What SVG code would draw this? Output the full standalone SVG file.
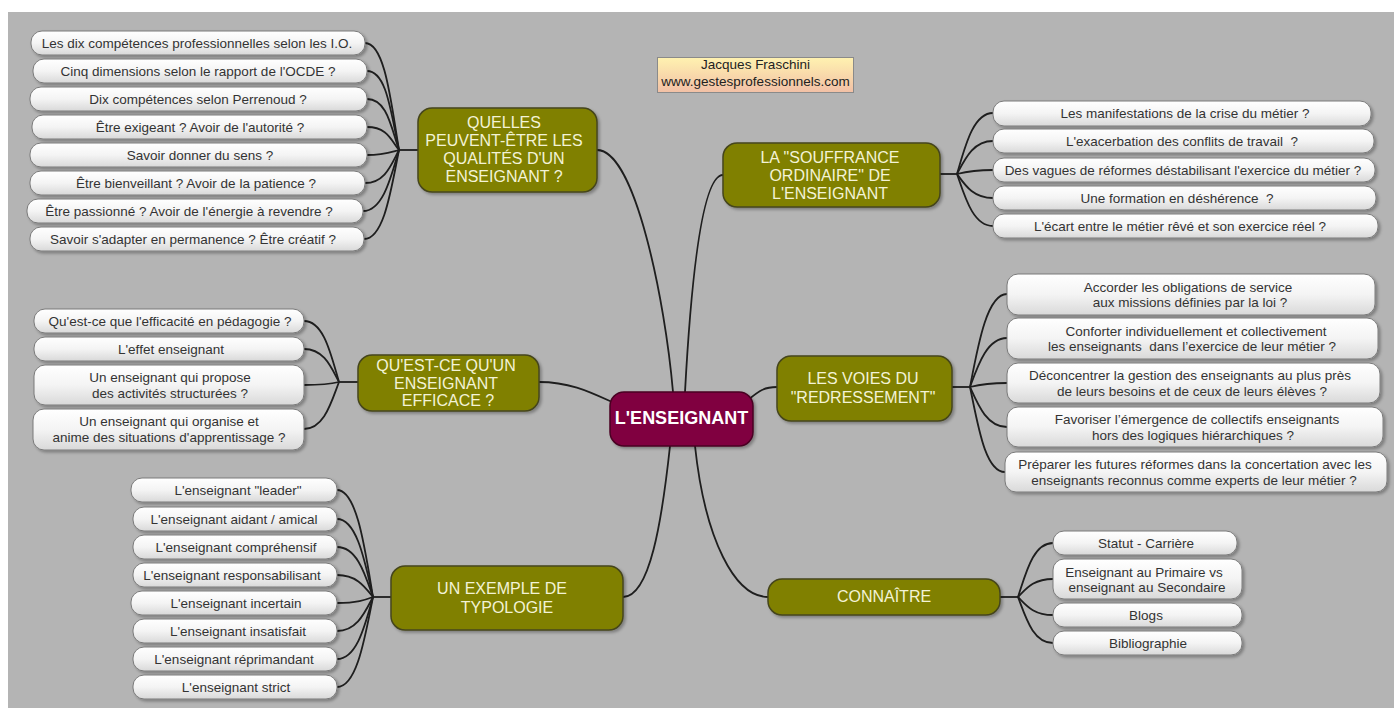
<svg xmlns="http://www.w3.org/2000/svg" width="1394" height="708" viewBox="0 0 1394 708">
<defs>
<linearGradient id="lg" x1="0" y1="0" x2="0" y2="1">
<stop offset="0" stop-color="#ffffff"/>
<stop offset="0.5" stop-color="#f4f4f4"/>
<stop offset="1" stop-color="#d9d9d9"/>
</linearGradient>
<linearGradient id="ag" x1="0" y1="0" x2="0" y2="1">
<stop offset="0" stop-color="#fff2b0"/>
<stop offset="1" stop-color="#f2c0a6"/>
</linearGradient>
<filter id="sh" x="-10%" y="-20%" width="130%" height="160%">
<feDropShadow dx="2" dy="2" stdDeviation="1.5" flood-color="#000" flood-opacity="0.3"/>
</filter>
</defs>
<style>
text{font-family:"Liberation Sans",Arial,sans-serif;text-anchor:middle}
.leaf rect{fill:url(#lg);stroke:#7a7a7a;stroke-width:1;filter:url(#sh)}
.leaf text{font-size:13.5px;fill:#333}
.br rect{fill:#808000;stroke:#45451c;stroke-width:1.5;filter:url(#sh)}
.br text{font-size:16px;fill:#f3f3d6}
.root rect{fill:#80003f;stroke:#4a0024;stroke-width:1.5;filter:url(#sh)}
.root text{font-size:18px;font-weight:bold;fill:#ffffff}
.auth rect{fill:url(#ag);stroke:#8a8a8a;stroke-width:1}
.auth text{font-size:13.5px;fill:#222}
#connectors path{fill:none;stroke:#1e1e1e;stroke-width:1.8}
</style>
<rect x="0" y="0" width="1394" height="708" fill="#ffffff"/>
<rect x="8" y="12" width="1386" height="696" fill="#b4b4b4"/>

<g id="connectors">
<path d="M597,150 C635,150 665,300 673,392"/>
<path d="M685,392 C690,300 700,175 723,175"/>
<path d="M748,400 C760,390 765,387 777,387"/>
<path d="M539,382 C570,382 590,392 612,402"/>
<path d="M670,446 C662,520 650,597 623,597"/>
<path d="M695,446 C705,540 735,597 768,597"/>

<path d="M399,150 H418"/>
<path d="M365,43 C385,43 391,102 399,150"/>
<path d="M367,71 C387,71 391,114 399,150"/>
<path d="M367,99 C387,99 391,127 399,150"/>
<path d="M367,127 C387,127 391,140 399,150"/>
<path d="M367,155 C383,155 391,152 399,150"/>
<path d="M365,183 C385,183 391,165 399,150"/>
<path d="M363,211 C383,211 391,177 399,150"/>
<path d="M364,239 C384,239 391,190 399,150"/>

<path d="M940,174 H957"/>
<path d="M993,113 C973,113 965,147 957,174"/>
<path d="M993,141 C973,141 965,159 957,174"/>
<path d="M993,170 C973,170 965,172 957,174"/>
<path d="M993,198 C973,198 965,185 957,174"/>
<path d="M993,226 C973,226 965,197 957,174"/>

<path d="M952,387 H970"/>
<path d="M1007,294 C987,294 978,345 970,387"/>
<path d="M1007,338 C987,338 978,365 970,387"/>
<path d="M1007,383 C987,383 978,385 970,387"/>
<path d="M1007,427 C987,427 978,405 970,387"/>
<path d="M1005,472 C985,472 978,425 970,387"/>

<path d="M339,382 H358"/>
<path d="M304,321 C324,321 331,355 339,382"/>
<path d="M304,349 C324,349 331,367 339,382"/>
<path d="M304,385 C324,385 331,384 339,382"/>
<path d="M304,429 C324,429 331,403 339,382"/>

<path d="M373,597 H391"/>
<path d="M337,490 C357,490 365,549 373,597"/>
<path d="M337,519 C357,519 365,562 373,597"/>
<path d="M337,547 C357,547 365,574 373,597"/>
<path d="M337,575 C357,575 365,587 373,597"/>
<path d="M337,603 C357,603 365,600 373,597"/>
<path d="M337,631 C357,631 365,612 373,597"/>
<path d="M337,659 C357,659 365,625 373,597"/>
<path d="M337,687 C357,687 365,637 373,597"/>

<path d="M1000,597 H1018"/>
<path d="M1053,543 C1033,543 1026,573 1018,597"/>
<path d="M1053,579 C1033,579 1026,589 1018,597"/>
<path d="M1053,615 C1033,615 1026,605 1018,597"/>
<path d="M1053,643 C1033,643 1026,618 1018,597"/>
</g>

<g id="author" class="auth">
<rect x="657.5" y="57.5" width="196" height="35"/>
<text x="755.5" y="69">Jacques Fraschini</text>
<text x="755.5" y="85.5">www.gestesprofessionnels.com</text>
</g>

<g id="root" class="root">
<rect x="610" y="392" width="143" height="54" rx="14"/>
<text x="681.5" y="424">L'ENSEIGNANT</text>
</g>

<g id="b-qualites" class="br">
<rect x="418" y="108" width="179" height="84" rx="14"/>
<text x="504" y="128">QUELLES</text>
<text x="504" y="146">PEUVENT-ÊTRE LES</text>
<text x="504" y="164">QUALITÉS D'UN</text>
<text x="504" y="182">ENSEIGNANT ?</text>
</g>
<g id="b-souffrance" class="br">
<rect x="723" y="143" width="217" height="64" rx="14"/>
<text x="830" y="163">LA "SOUFFRANCE</text>
<text x="830" y="181">ORDINAIRE" DE</text>
<text x="830" y="199">L'ENSEIGNANT</text>
</g>
<g id="b-voies" class="br">
<rect x="777" y="356" width="175" height="65" rx="14"/>
<text x="863" y="384">LES VOIES DU</text>
<text x="863" y="403">"REDRESSEMENT"</text>
</g>
<g id="b-efficace" class="br">
<rect x="358" y="355" width="181" height="56" rx="14"/>
<text x="446" y="371">QU'EST-CE QU'UN</text>
<text x="446" y="388.5">ENSEIGNANT</text>
<text x="448" y="406">EFFICACE ?</text>
</g>
<g id="b-typologie" class="br">
<rect x="391" y="566" width="232" height="64" rx="14"/>
<text x="502" y="594">UN EXEMPLE DE</text>
<text x="507" y="613">TYPOLOGIE</text>
</g>
<g id="b-connaitre" class="br">
<rect x="768" y="579" width="232" height="36" rx="14"/>
<text x="884" y="602">CONNAÎTRE</text>
</g>

<g id="q1" class="leaf"><rect x="31" y="31" width="334" height="24" rx="11"/><text x="197" y="47.5">Les dix compétences professionnelles selon les I.O.</text></g>
<g id="q2" class="leaf"><rect x="33" y="59" width="334" height="24" rx="11"/><text x="198" y="75.5">Cinq dimensions selon le rapport de l'OCDE ?</text></g>
<g id="q3" class="leaf"><rect x="30" y="87" width="337" height="24" rx="11"/><text x="198" y="103.5">Dix compétences selon Perrenoud ?</text></g>
<g id="q4" class="leaf"><rect x="32" y="115" width="335" height="24" rx="11"/><text x="200" y="131.5">Être exigeant ? Avoir de l'autorité ?</text></g>
<g id="q5" class="leaf"><rect x="30" y="143" width="337" height="24" rx="11"/><text x="200" y="159.5">Savoir donner du sens ?</text></g>
<g id="q6" class="leaf"><rect x="30" y="171" width="335" height="24" rx="11"/><text x="196" y="187.5">Être bienveillant ? Avoir de la patience ?</text></g>
<g id="q7" class="leaf"><rect x="27" y="199" width="336" height="24" rx="11"/><text x="189" y="215.5">Être passionné ? Avoir de l'énergie à revendre ?</text></g>
<g id="q8" class="leaf"><rect x="30" y="227" width="334" height="24" rx="11"/><text x="193" y="243.5">Savoir s'adapter en permanence ? Être créatif ?</text></g>

<g id="s1" class="leaf"><rect x="993" y="101" width="378" height="25" rx="11"/><text x="1185" y="118">Les manifestations de la crise du métier ?</text></g>
<g id="s2" class="leaf"><rect x="993" y="129" width="381" height="24" rx="11"/><text x="1182" y="145.5">L'exacerbation des conflits de travail&#160; ?</text></g>
<g id="s3" class="leaf"><rect x="993" y="158" width="382" height="24" rx="11"/><text x="1183" y="174.5">Des vagues de réformes déstabilisant l'exercice du métier ?</text></g>
<g id="s4" class="leaf"><rect x="993" y="186" width="383" height="24" rx="11"/><text x="1177" y="202.5">Une formation en déshérence&#160; ?</text></g>
<g id="s5" class="leaf"><rect x="993" y="214" width="385" height="24" rx="11"/><text x="1180" y="230.5">L'écart entre le métier rêvé et son exercice réel ?</text></g>

<g id="v1" class="leaf"><rect x="1007" y="274" width="368" height="41" rx="11"/><text x="1188" y="291.5">Accorder les obligations de service</text><text x="1190" y="307">aux missions définies par la loi ?</text></g>
<g id="v2" class="leaf"><rect x="1007" y="318" width="371" height="41" rx="11"/><text x="1196" y="335.5">Conforter individuellement et collectivement</text><text x="1192" y="351">les enseignants&#160; dans l’exercice de leur métier ?</text></g>
<g id="v3" class="leaf"><rect x="1007" y="363" width="373" height="40" rx="11"/><text x="1190" y="380">Déconcentrer la gestion des enseignants au plus près</text><text x="1192" y="396">de leurs besoins et de ceux de leurs élèves ?</text></g>
<g id="v4" class="leaf"><rect x="1007" y="407" width="376" height="40" rx="11"/><text x="1197" y="424">Favoriser l’émergence de collectifs enseignants</text><text x="1193" y="440">hors des logiques hiérarchiques ?</text></g>
<g id="v5" class="leaf"><rect x="1005" y="452" width="382" height="40" rx="11"/><text x="1195" y="469">Préparer les futures réformes dans la concertation avec les</text><text x="1194" y="485">enseignants reconnus comme experts de leur métier ?</text></g>

<g id="e1" class="leaf"><rect x="34" y="309" width="270" height="24" rx="11"/><text x="170" y="325.5">Qu'est-ce que l'efficacité en pédagogie ?</text></g>
<g id="e2" class="leaf"><rect x="34" y="337" width="270" height="24" rx="11"/><text x="171" y="353.5">L'effet enseignant</text></g>
<g id="e3" class="leaf"><rect x="34" y="365" width="270" height="40" rx="11"/><text x="170" y="382">Un enseignant qui propose</text><text x="170" y="398">des activités structurées ?</text></g>
<g id="e4" class="leaf"><rect x="33" y="409" width="271" height="41" rx="11"/><text x="169" y="426">Un enseignant qui organise et</text><text x="169" y="442">anime des situations d'apprentissage ?</text></g>

<g id="t1" class="leaf"><rect x="131" y="478" width="206" height="24" rx="11"/><text x="238" y="494.5">L'enseignant "leader"</text></g>
<g id="t2" class="leaf"><rect x="133" y="507" width="204" height="24" rx="11"/><text x="234" y="523.5">L'enseignant aidant / amical</text></g>
<g id="t3" class="leaf"><rect x="133" y="535" width="204" height="24" rx="11"/><text x="236" y="551.5">L'enseignant compréhensif</text></g>
<g id="t4" class="leaf"><rect x="133" y="563" width="204" height="24" rx="11"/><text x="232" y="579.5">L'enseignant responsabilisant</text></g>
<g id="t5" class="leaf"><rect x="131" y="591" width="206" height="24" rx="11"/><text x="236" y="607.5">L'enseignant incertain</text></g>
<g id="t6" class="leaf"><rect x="133" y="619" width="204" height="24" rx="11"/><text x="238" y="635.5">L'enseignant insatisfait</text></g>
<g id="t7" class="leaf"><rect x="133" y="647" width="204" height="24" rx="11"/><text x="234" y="663.5">L'enseignant réprimandant</text></g>
<g id="t8" class="leaf"><rect x="133" y="675" width="204" height="24" rx="11"/><text x="236" y="691.5">L'enseignant strict</text></g>

<g id="k1" class="leaf"><rect x="1053" y="531" width="184" height="24" rx="11"/><text x="1146" y="547.5">Statut - Carrière</text></g>
<g id="k2" class="leaf"><rect x="1053" y="559" width="189" height="40" rx="11"/><text x="1144" y="576.5">Enseignant au Primaire vs</text><text x="1147" y="592">enseignant au Secondaire</text></g>
<g id="k3" class="leaf"><rect x="1053" y="603" width="189" height="24" rx="11"/><text x="1146" y="619.5">Blogs</text></g>
<g id="k4" class="leaf"><rect x="1053" y="631" width="189" height="24" rx="11"/><text x="1148" y="647.5">Bibliographie</text></g>
</svg>
